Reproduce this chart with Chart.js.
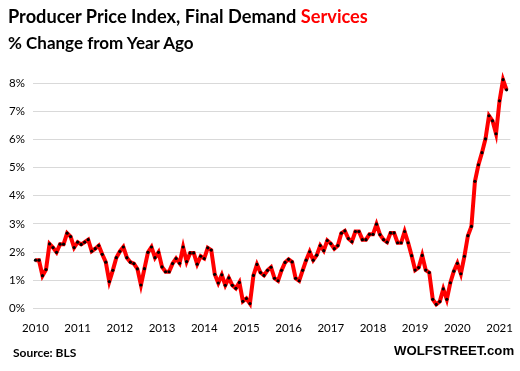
<!DOCTYPE html>
<html>
<head>
<meta charset="utf-8">
<script src="https://cdn.jsdelivr.net/npm/chart.js@4.4.1/dist/chart.umd.min.js"></script>
<style>
    body { margin: 0; background: #fff; }
    #wrap { position: relative; width: 520px; height: 371px; }
    .txt { position: absolute; font-family: Lato, sans-serif; font-weight: bold; white-space: nowrap; color: #000; }
</style>
</head>
<body>
<div id="wrap">
    <canvas id="chartPPI" width="520" height="371"></canvas>
    <div class="txt" style="left:8px; top:5px; font-size:18.2px;">Producer Price Index, Final Demand <span style="color:#ff0000">Services</span></div>
    <div class="txt" style="left:8px; top:32px; font-size:17px;">% Change from Year Ago</div>
    <div class="txt" style="left:13px; top:345px; font-size:12px;">Source: BLS</div>
    <div class="txt" style="left:394px; top:343px; font-size:13.2px; font-family:'Liberation Sans', Arial, sans-serif;">WOLFSTREET.com</div>
</div>
<script>
// Etiquetas de los años (eje X)
const anios = ['2010', '2011', '2012', '2013', '2014', '2015', '2016', '2017', '2018', '2019', '2020', '2021'];

// Variación % interanual, un valor por mes
const v2010 = [1.71, 1.71, 1.16, 1.38, 2.29, 2.16, 1.99, 2.28, 2.28, 2.67, 2.55, 2.16];
const v2011 = [2.35, 2.27, 2.35, 2.44, 2.03, 2.12, 2.23, 1.92, 1.64, 0.95, 1.35, 1.80];
const v2012 = [2.02, 2.18, 1.80, 1.64, 1.59, 1.40, 0.83, 1.41, 1.99, 2.18, 1.80, 1.99];
const v2013 = [1.47, 1.30, 1.30, 1.59, 1.77, 1.60, 2.18, 1.66, 1.97, 1.97, 1.57, 1.85];
const v2014 = [1.77, 2.15, 2.07, 1.21, 0.90, 1.19, 0.82, 1.08, 0.82, 0.71, 0.92, 0.25];
const v2015 = [0.35, 0.17, 1.17, 1.56, 1.27, 1.17, 1.35, 1.46, 1.07, 0.98, 1.35, 1.63];
const v2016 = [1.74, 1.65, 1.07, 0.98, 1.35, 1.71, 2.01, 1.71, 1.89, 2.23, 2.05, 2.41];
const v2017 = [2.30, 2.12, 2.23, 2.67, 2.75, 2.48, 2.37, 2.73, 2.73, 2.44, 2.44, 2.63];
const v2018 = [2.63, 2.99, 2.62, 2.44, 2.35, 2.68, 2.68, 2.33, 2.33, 2.73, 2.33, 1.87];
const v2019 = [1.36, 1.45, 1.88, 1.36, 1.27, 0.32, 0.14, 0.24, 0.69, 0.32, 0.91, 1.32];
const v2020 = [1.60, 1.23, 1.85, 2.58, 2.91, 4.51, 5.10, 5.53, 6.02, 6.84, 6.66, 6.20];
const v2021 = [7.37, 8.12, 7.76];

// Marcas del eje Y
const ticksY = [0, 1, 2, 3, 4, 5, 6, 7, 8];

const servicios = [].concat(v2010, v2011, v2012, v2013, v2014, v2015, v2016, v2017, v2018, v2019, v2020, v2021);
const puntos = servicios.map((v, i) => ({ x: i, y: v }));

const fuenteEjes = { family: 'Lato, sans-serif', size: 11.5 };

const ctx = document.getElementById('chartPPI').getContext('2d');
new Chart(ctx, {
    type: 'line',
    data: {
        datasets: [{
            label: 'Services',
            data: puntos,
            borderColor: '#ff0000',
            borderWidth: 4,
            pointRadius: 1.6,
            pointBackgroundColor: '#000',
            pointBorderWidth: 0,
            tension: 0
        }]
    },
    options: {
        responsive: false,
        animation: false,
        layout: { padding: { top: 69, bottom: 27, left: 0, right: 5 } },
        plugins: { legend: { display: false }, tooltip: { enabled: false } },
        scales: {
            x: {
                type: 'linear',
                min: -0.7,
                max: 135.07,
                grid: { display: false, drawTicks: false },
                border: { display: false },
                afterBuildTicks: s => { s.ticks = anios.map((a, i) => ({ value: i * 12 })); },
                afterFit: s => { s.height = 30; },
                ticks: {
                    color: '#000',
                    font: fuenteEjes,
                    padding: 7,
                    maxRotation: 0,
                    autoSkip: false,
                    callback: v => anios[v / 12]
                }
            },
            y: {
                min: -0.2,
                max: 8.5,
                grid: { color: '#d9d9d9', lineWidth: 1, drawTicks: false },
                border: { display: false },
                afterBuildTicks: s => { s.ticks = ticksY.map(v => ({ value: v })); },
                afterFit: s => { s.width = 33; },
                ticks: {
                    color: '#000',
                    font: fuenteEjes,
                    padding: 8,
                    callback: v => v + '%'
                }
            }
        }
    }
});
</script>
</body>
</html>
